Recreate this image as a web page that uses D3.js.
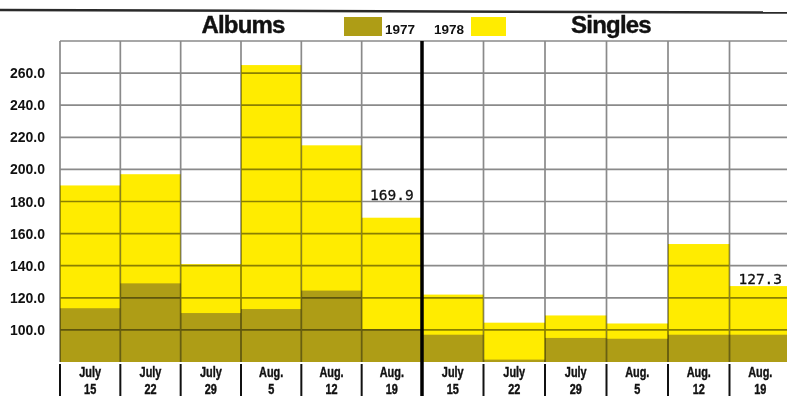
<!DOCTYPE html>
<html>
<head>
<meta charset="utf-8">
<script src="https://cdn.jsdelivr.net/npm/d3@7"></script>
<style>
  body { margin: 0; background: #fff; overflow: hidden; }
  svg { display: block; }
</style>
</head>
<body>
<div id="chart"></div>
<script>
// data
const dates = ["July 15", "July 22", "July 29", "Aug. 5", "Aug. 12", "Aug. 19"];
const albums1977 = [113.5, 129, 110.5, 113, 124.5, 100.5];
const albums1978 = [190, 197, 141, 265, 215, 169.9];
const singles1977 = [97, 81.5, 95, 94.5, 97, 97];
const singles1978 = [122, 104.5, 109, 104, 153.5, 127.3];
const yTicks = [100, 120, 140, 160, 180, 200, 220, 240, 260];

// dimensions
const width = 787, height = 396;
const plotTop = 41, plotBottom = 362;
const plotLeft = 60, plotMid = 422, plotRight = 791;

const olive = "#ae9d16";
const yellow = "#ffec00";

const svg = d3.select("#chart").append("svg")
    .attr("width", width)
    .attr("height", height);

const y = d3.scaleLinear().domain([80, 280]).range([plotBottom, plotTop]);

const panels = [
    {name: "Albums", v77: albums1977, v78: albums1978, range: [plotLeft, plotMid], titleX: 243},
    {name: "Singles", v77: singles1977, v78: singles1978, range: [plotMid, plotRight], titleX: 611}
];

// bars: 1978 behind, 1977 in front, both from the bottom
panels.forEach(p => {
    p.x = d3.scaleBand().domain(dates).range(p.range).padding(0);
    const rows = dates.map((d, i) => ({date: d, a: p.v77[i], b: p.v78[i]}));
    const g = svg.append("g");
    g.selectAll("rect.y78")
        .data(rows)
        .join("rect")
        .attr("class", "y78")
        .attr("x", d => p.x(d.date))
        .attr("y", d => y(d.b))
        .attr("width", p.x.bandwidth())
        .attr("height", d => plotBottom - y(d.b))
        .attr("fill", yellow);
    g.selectAll("rect.y77")
        .data(rows)
        .join("rect")
        .attr("class", "y77")
        .attr("x", d => p.x(d.date))
        .attr("y", d => y(d.a))
        .attr("width", p.x.bandwidth())
        .attr("height", d => plotBottom - y(d.a))
        .attr("fill", olive);
});

// grid drawn over the bars (multiply so lines darken on colour)
const grid = svg.append("g").style("mix-blend-mode", "multiply");
const hLines = d3.range(280, 80, -20);
grid.selectAll("line.h")
    .data(hLines)
    .join("line")
    .attr("x1", plotLeft).attr("x2", width)
    .attr("y1", d => y(d)).attr("y2", d => y(d))
    .attr("stroke", "#8a8a8a")
    .attr("stroke-width", 1.7);

const colEdges = [];
panels.forEach(p => dates.forEach(d => colEdges.push(p.x(d))));
grid.selectAll("line.v")
    .data(colEdges.filter(x => x !== plotMid))
    .join("line")
    .attr("x1", d => d).attr("x2", d => d)
    .attr("y1", plotTop).attr("y2", plotBottom)
    .attr("stroke", "#8a8a8a")
    .attr("stroke-width", 1.7);

// bottom separators under the columns
svg.selectAll("line.sep")
    .data(colEdges.filter(x => x !== plotMid))
    .join("line")
    .attr("x1", d => d).attr("x2", d => d)
    .attr("y1", 364).attr("y2", height)
    .attr("stroke", "#111")
    .attr("stroke-width", 2);

// thick divider between albums and singles
svg.append("line")
    .attr("x1", plotMid).attr("x2", plotMid)
    .attr("y1", plotTop).attr("y2", height)
    .attr("stroke", "#000")
    .attr("stroke-width", 3.5);

// top rule, a thin filled wedge so it runs edge to edge
svg.append("path")
    .attr("d", `M0,8.8 L${width},11.3 L${width},13.8 L0,11.3 Z`)
    .attr("fill", "#2a2a2a");

// y labels
svg.selectAll("text.ylab")
    .data(yTicks)
    .join("text")
    .attr("class", "ylab")
    .attr("x", 45)
    .attr("y", d => y(d))
    .attr("dy", "0.36em")
    .attr("text-anchor", "end")
    .attr("font-family", "'Liberation Sans', Arial, sans-serif")
    .attr("font-weight", 700)
    .attr("font-size", 14)
    .attr("fill", "#111")
    .text(d => d.toFixed(1));

// date labels (condensed by a horizontal squeeze)
panels.forEach(p => {
    const t = svg.append("g").selectAll("g")
        .data(dates)
        .join("g")
        .attr("transform", d => `translate(${p.x(d) + p.x.bandwidth() / 2},0) scale(0.78,1)`)
        .append("text")
        .attr("text-anchor", "middle")
        .attr("font-family", "'Liberation Sans', Arial, sans-serif")
        .attr("font-weight", 700)
        .attr("font-size", 14)
        .attr("stroke", "#111")
        .attr("stroke-width", 0.4)
        .attr("fill", "#111");
    t.append("tspan")
        .attr("x", 0)
        .attr("y", 377)
        .text(d => d.split(" ")[0]);
    t.append("tspan")
        .attr("x", 0)
        .attr("y", 394)
        .text(d => d.split(" ")[1]);

    svg.append("text")
        .attr("x", p.titleX)
        .attr("y", 33)
        .attr("text-anchor", "middle")
        .attr("font-family", "'Liberation Sans', Arial, sans-serif")
        .attr("font-weight", 700)
        .attr("font-size", 24)
        .attr("letter-spacing", -0.8)
        .attr("stroke", "#111")
        .attr("stroke-width", 0.4)
        .attr("fill", "#111")
        .text(p.name);
});

// value callouts on the last week
const callouts = [
    {panel: panels[0], val: albums1978[5], off: 18},
    {panel: panels[1], val: singles1978[5], off: 2}
];
callouts.forEach(c => {
    const last = dates[dates.length - 1];
    svg.append("text")
        .attr("x", c.panel.x(last) + c.panel.x.bandwidth() / 2)
        .attr("y", y(c.val) - c.off)
        .attr("text-anchor", "middle")
        .attr("font-family", "'DejaVu Sans Mono', monospace")
        .attr("font-size", 14.5)
        .attr("stroke", "#111")
        .attr("stroke-width", 0.3)
        .attr("fill", "#111")
        .text(c.val.toFixed(1));
});

// legend
const legend = svg.append("g").attr("font-family", "'Liberation Sans', Arial, sans-serif")
    .attr("font-weight", 700).attr("font-size", 13.5).attr("fill", "#111");
legend.append("rect").attr("x", 344).attr("y", 17).attr("width", 38).attr("height", 19).attr("fill", olive);
legend.append("text").attr("x", 385).attr("y", 34).text("1977");
legend.append("text").attr("x", 434).attr("y", 34).text("1978");
legend.append("rect").attr("x", 471).attr("y", 17).attr("width", 35).attr("height", 19).attr("fill", yellow);
</script>
</body>
</html>
